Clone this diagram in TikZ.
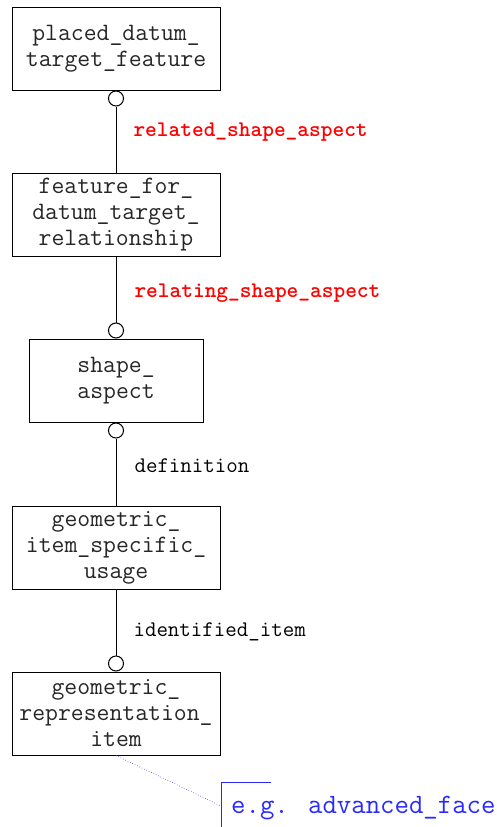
\documentclass[tikz,border=0pt]{standalone}
\usepackage{xcolor}
\usepackage{tikz}
\usetikzlibrary{positioning}

\definecolor{notecolor}{RGB}{40,40,255}

\begin{document}
\begin{tikzpicture}[
  x=1pt, y=1pt,
  entity/.style={rectangle, draw, line width=1pt, align=center, minimum width=208pt, minimum height=83pt,
    inner sep=0pt, font=\ttfamily\fontsize{25}{26}\selectfont, text=black!85},
  ring/.style={circle, draw, line width=1pt, fill=white, minimum size=15pt, inner sep=0pt},
  role/.style={anchor=west, font=\ttfamily\fontsize{22.3}{24}\selectfont},
  keyrole/.style={role, text=red, font=\ttfamily\bfseries\fontsize{22.3}{24}\selectfont},
  line/.style={line width=1pt}
]
\useasboundingbox (0,0) rectangle (496,-827);

\node[entity] (pdtf) at (116,-48.5) {placed\_datum\_\\target\_feature};
\node[entity] (ffdtr) at (116,-214.5) {feature\_for\_\\datum\_target\_\\relationship};
\node[entity, minimum width=174pt] (sa) at (116,-380.5) {shape\_\\aspect};
\node[entity] (gisu) at (116,-547.5) {geometric\_\\item\_specific\_\\usage};
\node[entity] (gri) at (116,-713.5) {geometric\_\\representation\_\\item};

\node[ring, below=0pt of pdtf] (r1) {};
\node[ring, above=0pt of sa] (r2) {};
\node[ring, below=0pt of sa] (r3) {};
\node[ring, above=0pt of gri] (r4) {};

\draw[line] (r1) -- (ffdtr);
\draw[line] (ffdtr) -- (r2);
\draw[line] (r3) -- (gisu);
\draw[line] (gisu) -- (r4);

\node[keyrole] (l1) at (130,-132) {related\_shape\_aspect};
\node[keyrole] (l2) at (131,-293) {relating\_shape\_aspect};
\node[role] (l3) at (131,-466) {definition};
\node[role] (l4) at (130,-632) {identified\_item};

% note
\node[anchor=west, text=notecolor, inner sep=0pt, font=\ttfamily\fontsize{28}{30}\selectfont] (eg) at (231,-808) {e.g. advanced\_face};
\coordinate (tip) at (221,-806);
\draw[notecolor, line width=1pt] (221,-827) -- (221,-782) -- (271,-782);
\draw[notecolor, dotted, line width=0.6pt] (gri.south) -- (tip);
\end{tikzpicture}
\end{document}
